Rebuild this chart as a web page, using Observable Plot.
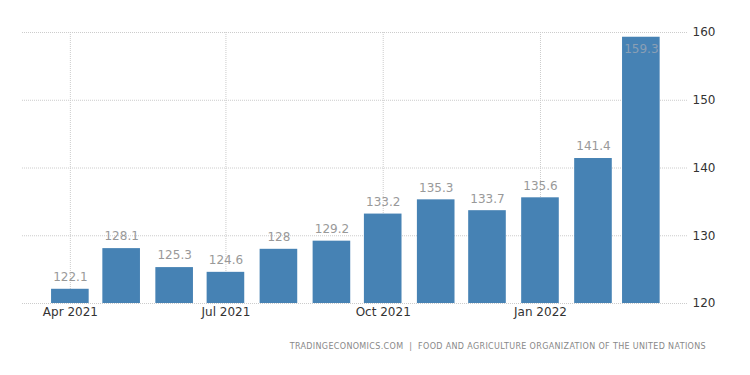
<!DOCTYPE html>
<html>
<head>
<meta charset="utf-8">
<script src="https://cdn.jsdelivr.net/npm/d3@7"></script>
<script src="https://cdn.jsdelivr.net/npm/@observablehq/plot@0.6"></script>
<style>
  html, body { margin: 0; padding: 0; background: #fff; }
  #chart { width: 750px; }
  #caption {
    width: 750px; box-sizing: border-box; text-align: right; padding-right: 44px;
    font-family: "DejaVu Sans", sans-serif; font-size: 8px; letter-spacing: 0.35px;
    color: #888; margin-top: 12px; white-space: pre;
  }
</style>
</head>
<body>
<div id="chart"></div>
<div id="caption">TRADINGECONOMICS.COM  |  FOOD AND AGRICULTURE ORGANIZATION OF THE UNITED NATIONS</div>
<script>
const months = ["2021-04-01","2021-05-01","2021-06-01","2021-07-01","2021-08-01","2021-09-01",
                "2021-10-01","2021-11-01","2021-12-01","2022-01-01","2022-02-01","2022-03-01"];
const values = [122.1, 128.1, 125.3, 124.6, 128, 129.2, 133.2, 135.3, 133.7, 135.6, 141.4, 159.3];
const xTickDates = ["2021-04-01","2021-07-01","2021-10-01","2022-01-01"];
const xTickLabels = ["Apr 2021","Jul 2021","Oct 2021","Jan 2022"];
const yTicks = [120, 130, 140, 150, 160];

const data = months.map((m, i) => ({date: new Date(m), value: values[i]}));
const xTicks = xTickDates.map(d => new Date(d));
const labelMap = new Map(xTicks.map((d, i) => [+d, xTickLabels[i]]));
const yBase = yTicks[0];
const yMax = yTicks[yTicks.length - 1];

const chart = Plot.plot({
  width: 750,
  height: 330,
  marginLeft: 22,
  marginRight: 63,
  marginTop: 32,
  marginBottom: 27,
  x: {type: "utc", domain: [new Date("2021-03-04"), new Date("2022-03-28")], label: null},
  y: {domain: [yBase, yMax], label: null},
  style: {fontFamily: "DejaVu Sans, sans-serif", background: "#fff"},
  marks: [
    Plot.gridY(yTicks, {stroke: "#ccc", strokeOpacity: 1, strokeDasharray: "1,1"}),
    Plot.gridX(xTicks, {stroke: "#ccc", strokeOpacity: 1, strokeDasharray: "1,1"}),
    Plot.rectY(data, {
      x1: d => d3.utcDay.offset(d.date, -11),
      x2: d => d3.utcDay.offset(d.date, 11),
      y1: () => yBase,
      y2: "value",
      fill: "#4682b4"
    }),
    Plot.text(data.filter(d => d.value < yMax - 4), {
      x: "date", y: "value", text: d => String(d.value),
      dy: -12, fill: "#999", fontSize: 12
    }),
    Plot.text(data.filter(d => d.value >= yMax - 4), {
      x: "date", y: "value", text: d => String(d.value),
      dy: 12, fill: "#8a9fb4", fontSize: 12
    }),
    Plot.axisY(yTicks, {anchor: "right", tickSize: 0, tickPadding: 5, fontSize: 12, fill: "#333", label: null}),
    Plot.axisX(xTicks, {anchor: "bottom", tickSize: 0, tickPadding: 4, fontSize: 12, fill: "#333",
      label: null, tickFormat: d => labelMap.get(+d)})
  ]
});
document.getElementById("chart").appendChild(chart);
</script>
</body>
</html>
